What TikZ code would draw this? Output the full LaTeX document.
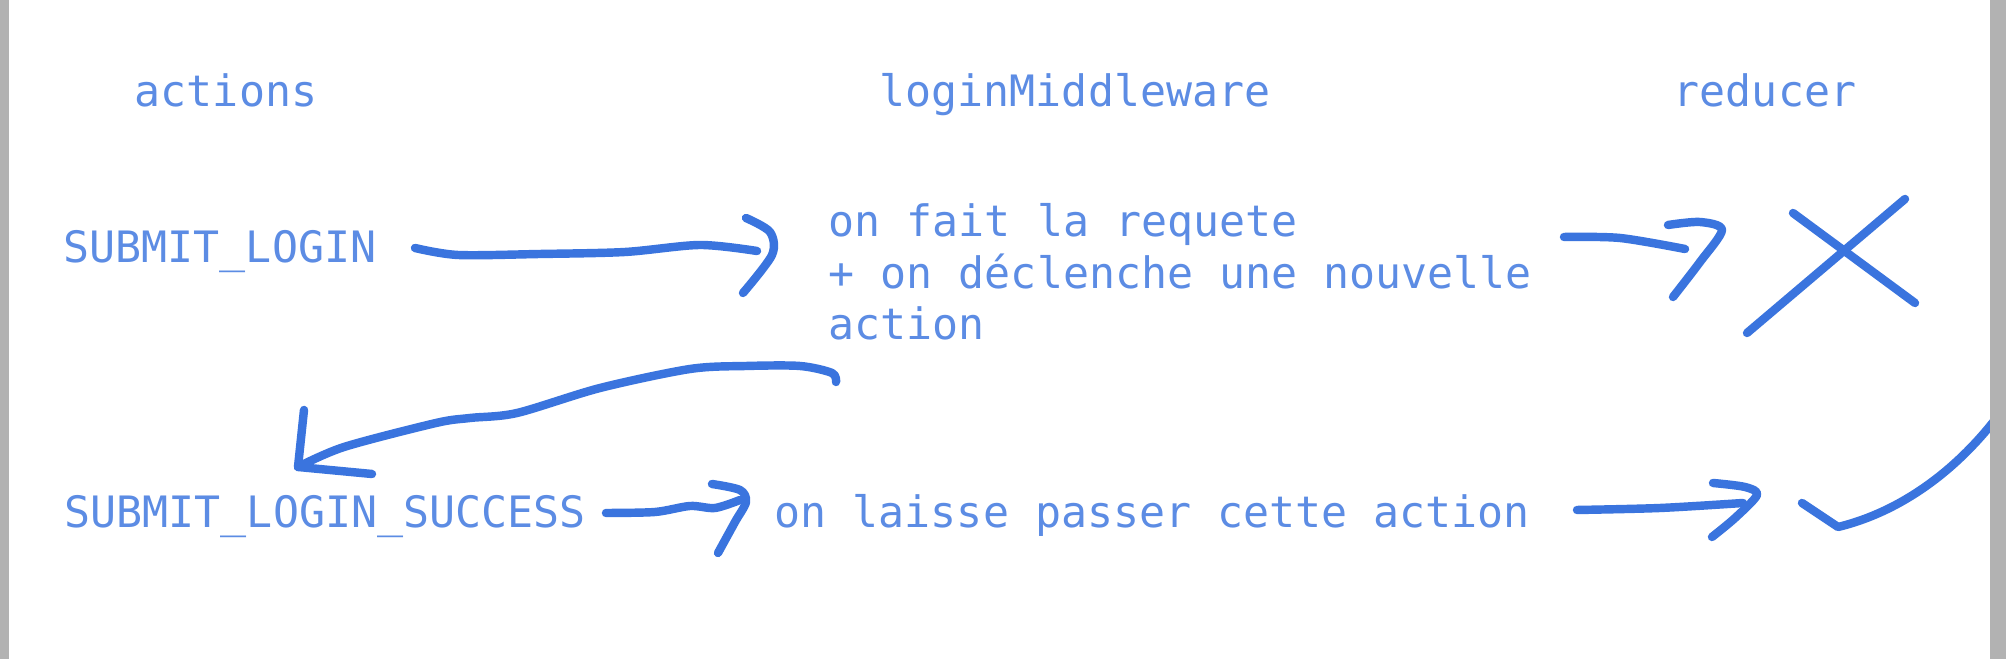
\documentclass[tikz,border=0pt]{standalone}
\usepackage{fontspec}
\newfontfamily\codefont{DejaVu Sans Mono}
\usetikzlibrary{positioning}
\definecolor{textblue}{RGB}{92,140,228}
\definecolor{penblue}{RGB}{58,116,222}
\definecolor{framegray}{RGB}{178,178,178}
\tikzset{
        labelnode/.style={inner sep=0pt, text=textblue, font=\codefont\fontsize{12.3}{14.7}\selectfont},
        % Column titles
        node_title/.style={labelnode, anchor=base},
        % Action names and middleware notes
        node_text/.style={labelnode, anchor=base west, align=left},
        % Hand drawn strokes
        hand_line/.style={draw=penblue, line width=2.4pt, line cap=round, line join=round}
}

\begin{document}
\begin{tikzpicture}[x=0.01cm, y=-0.01cm]
            \useasboundingbox (0,0) rectangle (2006,659);
            \fill[white] (0,0) rectangle (2006,659);

            % titles
            \node[node_title] (actions) at (226,107) {actions};
            \node[node_title] (middleware) at (1075,107) {loginMiddleware};
            \node[node_title] (reducer) at (1765,107) {reducer};

            % rows
            \node[node_text] (submit) at (63,263) {SUBMIT\_LOGIN};
            \node[node_text] (request) at (828,340) {on fait la requete\\+ on déclenche une nouvelle\\action};
            \node[node_text] (success) at (64,528) {SUBMIT\_LOGIN\_SUCCESS};
            \node[node_text] (letpass) at (774,528) {on laisse passer cette action};

            % connector ends
            \coordinate (submit_tail) at (415,248);
            \coordinate (request_tip) at (757,251);
            \coordinate (request_tail) at (836,382);
            \coordinate (success_tip) at (298,467);
            \coordinate (success_tail) at (606,513);
            \coordinate (letpass_tip) at (740,500);
            \coordinate (request_out) at (1564,237);
            \coordinate (reducer_tip) at (1685,249);
            \coordinate (letpass_out) at (1577,510);
            \coordinate (check_tip) at (1743,503);

            % SUBMIT_LOGIN -> middleware
            \draw[hand_line] plot[smooth] coordinates {(submit_tail) (458,255) (540,254) (625,252) (700,245) (request_tip)};
            \draw[hand_line] plot[smooth] coordinates {(746,218) (770,232) (772,255) (743,293)};

            % middleware -> SUBMIT_LOGIN_SUCCESS
            \draw[hand_line] plot[smooth] coordinates {(request_tail) (832,373) (800,366) (746,366) (690,369) (600,388) (517,413) (470,418) (436,423) (344,447) (success_tip)};
            \draw[hand_line] (304,410) -- (success_tip) -- (372,474);

            % SUBMIT_LOGIN_SUCCESS -> middleware
            \draw[hand_line] plot[smooth] coordinates {(success_tail) (655,512) (690,506) (715,508) (letpass_tip)};
            \draw[hand_line] plot[smooth] coordinates {(712,484) (740,490) (746,502) (735,522) (718,553)};

            % middleware -> reducer (rejected)
            \draw[hand_line] plot[smooth] coordinates {(request_out) (1620,238) (reducer_tip)};
            \draw[hand_line] plot[smooth] coordinates {(1668,225) (1700,222) (1722,230) (1700,262) (1673,297)};
            \draw[hand_line] (1793,213) -- (1915,303);
            \draw[hand_line] (1905,199) -- (1747,333);

            % middleware -> reducer (accepted)
            \draw[hand_line] plot[smooth] coordinates {(letpass_out) (1660,508) (check_tip)};
            \draw[hand_line] plot[smooth] coordinates {(1713,483) (1745,487) (1757,495) (1735,518) (1712,537)};
            \draw[hand_line] (1802,503) -- (1838,527) .. controls (1900,512) and (1960,470) .. (2006,405);

            % frame edges
            \fill[framegray] (0,0) rectangle (9,659);
            \fill[framegray] (1990,0) rectangle (2006,659);
\end{tikzpicture}
\end{document}
